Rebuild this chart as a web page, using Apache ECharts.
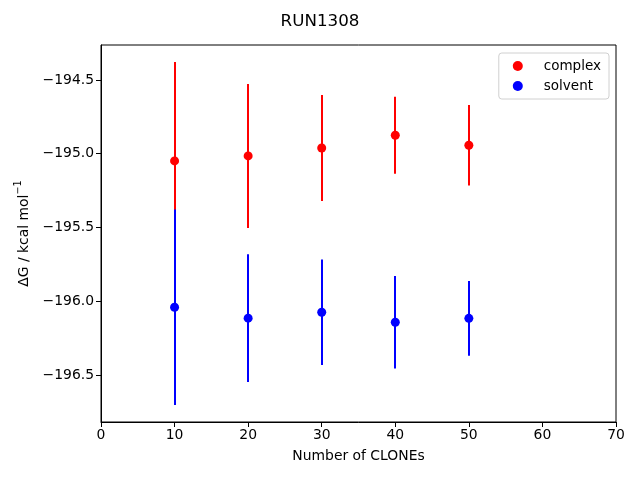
<!DOCTYPE html>
<html>
<head>
<meta charset="utf-8">
<script src="https://cdn.jsdelivr.net/npm/echarts@6/dist/echarts.min.js"></script>
<style>html,body{margin:0;padding:0;background:#fff}#c{width:640px;height:480px}</style>
</head>
<body>
<div id="c"></div>
<script>
const clones = [10, 20, 30, 40, 50];
const complexMean = [-195.049, -195.015, -194.961, -194.875, -194.943];
const complexErr = [0.671, 0.488, 0.359, 0.261, 0.273];
const solventMean = [-196.041, -196.115, -196.075, -196.143, -196.116];
const solventErr = [0.662, 0.433, 0.357, 0.314, 0.253];
const yTicks = [-196.5, -196.0, -195.5, -195.0, -194.5];
const xTicks = [0, 10, 20, 30, 40, 50, 60, 70];

const FONT = 'DejaVu Sans';
const chart = echarts.init(document.getElementById('c'), null, {renderer: 'canvas'});

function errSeries(name, means, errs, color) {
  return {
    type: 'custom',
    name: name + '_err',
    silent: true,
    z: 2,
    data: clones.map((x, i) => [x, means[i], errs[i]]),
    renderItem: function (params, api) {
      const x = api.value(0), y = api.value(1), e = api.value(2);
      const p1 = api.coord([x, y - e]);
      const p2 = api.coord([x, y + e]);
      const px = Math.round(p1[0]);
      return {
        type: 'line',
        shape: {x1: px, y1: p1[1], x2: px, y2: p2[1]},
        style: {stroke: color, lineWidth: 2}
      };
    }
  };
}

const fmt = v => (v < 0 ? '\u2212' : '') + Math.abs(v).toFixed(1);

chart.setOption({
  animation: false,
  backgroundColor: '#fff',
  title: {
    text: 'RUN1308', left: 'center', top: 8,
    textStyle: {fontFamily: FONT, fontSize: 16.7, fontWeight: 'normal', color: '#000'}
  },
  grid: {left: 101, right: 24, top: 45, bottom: 58, show: true, borderColor: '#000', borderWidth: 1},
  legend: {
    orient: 'vertical', right: 31, top: 53,
    padding: [6, 8, 6, 14],
    itemGap: 6, itemWidth: 10, itemHeight: 10,
    backgroundColor: '#fff', borderColor: '#d0d0d0', borderWidth: 1, borderRadius: 3,
    data: [{name: 'complex', icon: 'circle'}, {name: 'solvent', icon: 'circle'}],
    textStyle: {fontFamily: FONT, fontSize: 13.5, color: '#000', padding: [0, 0, 0, 16]}
  },
  xAxis: {
    type: 'value', min: 0, max: 70, interval: 10,
    name: 'Number of CLONEs', nameLocation: 'middle', nameGap: 27,
    nameTextStyle: {fontFamily: FONT, fontSize: 13.9, color: '#000'},
    axisLine: {show: true, lineStyle: {color: '#000', width: 1}},
    axisTick: {show: true, inside: false, length: 5, lineStyle: {color: '#000'}},
    axisLabel: {fontFamily: FONT, fontSize: 13.9, color: '#000', margin: 6},
    splitLine: {show: false}
  },
  yAxis: {
    type: 'value', min: -196.819, max: -194.263,
    name: '{a|ΔG / kcal mol}{s|−1}', nameLocation: 'middle', nameGap: 64, nameRotate: 90,
    nameTextStyle: {
      fontFamily: FONT, fontSize: 13.9, color: '#000',
      rich: {
        a: {fontFamily: FONT, fontSize: 13.9, color: '#000', lineHeight: 18, verticalAlign: 'bottom'},
        s: {fontFamily: FONT, fontSize: 9.7, color: '#000', lineHeight: 18, verticalAlign: 'top', padding: [0, 0, 8, 0]}
      }
    },
    axisLine: {show: true, lineStyle: {color: '#000', width: 1}},
    axisTick: {show: true, inside: false, length: 5, lineStyle: {color: '#000'}, customValues: yTicks},
    axisLabel: {fontFamily: FONT, fontSize: 13.9, color: '#000', margin: 7, customValues: yTicks, formatter: fmt},
    splitLine: {show: false}
  },
  series: [
    errSeries('complex', complexMean, complexErr, '#ff0000'),
    {
      type: 'scatter', name: 'complex', z: 3,
      symbol: 'circle', symbolSize: 9,
      itemStyle: {color: '#ff0000', opacity: 1},
      data: clones.map((x, i) => [x, complexMean[i]])
    },
    errSeries('solvent', solventMean, solventErr, '#0000ff'),
    {
      type: 'scatter', name: 'solvent', z: 3,
      symbol: 'circle', symbolSize: 9,
      itemStyle: {color: '#0000ff', opacity: 1},
      data: clones.map((x, i) => [x, solventMean[i]])
    }
  ]
});
</script>
</body>
</html>
